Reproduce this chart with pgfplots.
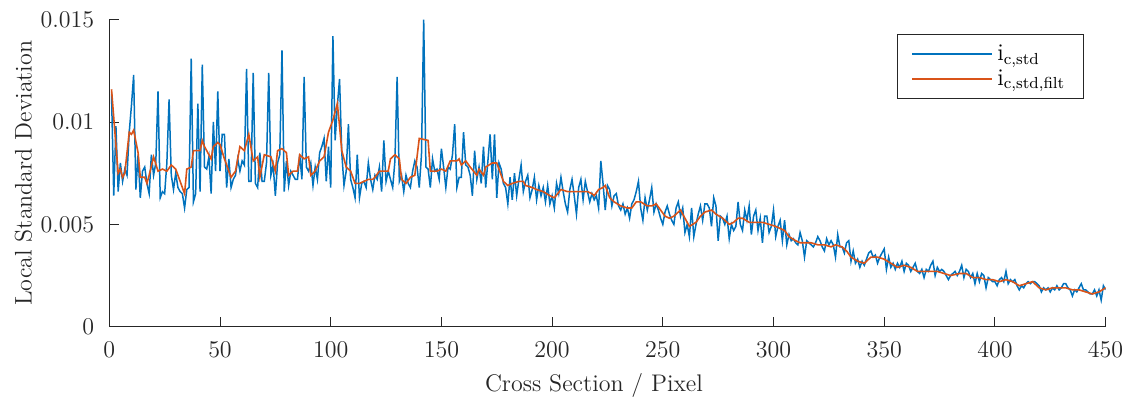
\documentclass[border=0pt]{standalone}
\usepackage{fontspec}
\usepackage{pgfplots}
\usepackage{pgfplotstable}
\pgfplotsset{compat=1.18}

\definecolor{mblue}{rgb}{0,0.447,0.741}
\definecolor{morange}{rgb}{0.851,0.325,0.098}
\definecolor{axgray}{rgb}{0.15,0.15,0.15}

% local standard deviation along the cross section
\pgfplotstableread{
x y
1 0.0114
2 0.0064
3 0.0098
4 0.0066
5 0.0080
6 0.0071
7 0.0077
8 0.0074
9 0.0095
10 0.0108
11 0.0123
12 0.0067
13 0.0084
14 0.0063
15 0.0076
16 0.0078
17 0.0070
18 0.0065
19 0.0084
20 0.0074
21 0.0080
22 0.0115
23 0.0063
24 0.0066
25 0.0065
26 0.0080
27 0.0111
28 0.0074
29 0.0067
30 0.0075
31 0.0068
32 0.0066
33 0.0065
34 0.0058
35 0.0067
36 0.0068
37 0.0131
38 0.0061
39 0.0065
40 0.0109
41 0.0066
42 0.0128
43 0.0078
44 0.0077
45 0.0083
46 0.0065
47 0.0100
48 0.0076
49 0.0115
50 0.0076
51 0.0094
52 0.0094
53 0.0068
54 0.0082
55 0.0068
56 0.0072
57 0.0074
58 0.0082
59 0.0076
60 0.0081
61 0.0079
62 0.0126
63 0.0071
64 0.0071
65 0.0124
66 0.0070
67 0.0068
68 0.0085
69 0.0071
70 0.0071
71 0.0080
72 0.0124
73 0.0074
74 0.0079
75 0.0064
76 0.0080
77 0.0084
78 0.0135
79 0.0066
80 0.0081
81 0.0069
82 0.0076
83 0.0074
84 0.0072
85 0.0072
86 0.0084
87 0.0072
88 0.0122
89 0.0078
90 0.0076
91 0.0080
92 0.0069
93 0.0078
94 0.0072
95 0.0085
96 0.0088
97 0.0092
98 0.0071
99 0.0088
100 0.0068
101 0.0142
102 0.0091
103 0.0108
104 0.0121
105 0.0085
106 0.0069
107 0.0076
108 0.0099
109 0.0072
110 0.0068
111 0.0063
112 0.0084
113 0.0063
114 0.0070
115 0.0071
116 0.0068
117 0.0080
118 0.0072
119 0.0067
120 0.0074
121 0.0072
122 0.0078
123 0.0066
124 0.0091
125 0.0071
126 0.0076
127 0.0072
128 0.0068
129 0.0081
130 0.0122
131 0.0071
132 0.0074
133 0.0066
134 0.0074
135 0.0070
136 0.0068
137 0.0076
138 0.0081
139 0.0078
140 0.0068
141 0.0084
142 0.0150
143 0.0078
144 0.0077
145 0.0068
146 0.0082
147 0.0076
148 0.0077
149 0.0072
150 0.0087
151 0.0078
152 0.0068
153 0.0078
154 0.0077
155 0.0084
156 0.0099
157 0.0068
158 0.0073
159 0.0073
160 0.0095
161 0.0079
162 0.0078
163 0.0074
164 0.0064
165 0.0086
166 0.0072
167 0.0078
168 0.0070
169 0.0088
170 0.0068
171 0.0081
172 0.0094
173 0.0072
174 0.0094
175 0.0063
176 0.0080
177 0.0077
178 0.0070
179 0.0068
180 0.0060
181 0.0073
182 0.0062
183 0.0075
184 0.0064
185 0.0072
186 0.0079
187 0.0066
188 0.0071
189 0.0074
190 0.0063
191 0.0067
192 0.0073
193 0.0062
194 0.0069
195 0.0064
196 0.0068
197 0.0061
198 0.0069
199 0.0060
200 0.0064
201 0.0058
202 0.0070
203 0.0065
204 0.0073
205 0.0066
206 0.0060
207 0.0056
208 0.0067
209 0.0072
210 0.0064
211 0.0055
212 0.0068
213 0.0072
214 0.0062
215 0.0071
216 0.0066
217 0.0061
218 0.0065
219 0.0062
220 0.0064
221 0.0058
222 0.0081
223 0.0070
224 0.0057
225 0.0069
226 0.0067
227 0.0059
228 0.0064
229 0.0065
230 0.0059
231 0.0057
232 0.0060
233 0.0055
234 0.0058
235 0.0053
236 0.0060
237 0.0062
238 0.0066
239 0.0071
240 0.0058
241 0.0052
242 0.0063
243 0.0057
244 0.0062
245 0.0068
246 0.0056
247 0.0060
248 0.0057
249 0.0053
250 0.0050
251 0.0056
252 0.0059
253 0.0055
254 0.0052
255 0.0050
256 0.0058
257 0.0061
258 0.0054
259 0.0058
260 0.0046
261 0.0050
262 0.0044
263 0.0058
264 0.0044
265 0.0050
266 0.0055
267 0.0059
268 0.0052
269 0.0060
270 0.0060
271 0.0058
272 0.0049
273 0.0063
274 0.0059
275 0.0042
276 0.0054
277 0.0053
278 0.0050
279 0.0054
280 0.0043
281 0.0050
282 0.0047
283 0.0049
284 0.0061
285 0.0050
286 0.0047
287 0.0057
288 0.0052
289 0.0059
290 0.0045
291 0.0054
292 0.0057
293 0.0047
294 0.0053
295 0.0041
296 0.0054
297 0.0054
298 0.0046
299 0.0049
300 0.0057
301 0.0044
302 0.0049
303 0.0052
304 0.0042
305 0.0052
306 0.0040
307 0.0045
308 0.0042
309 0.0043
310 0.0041
311 0.0040
312 0.0046
313 0.0042
314 0.0034
315 0.0042
316 0.0041
317 0.0040
318 0.0039
319 0.0041
320 0.0044
321 0.0042
322 0.0039
323 0.0037
324 0.0043
325 0.0040
326 0.0042
327 0.0040
328 0.0034
329 0.0045
330 0.0039
331 0.0039
332 0.0036
333 0.0041
334 0.0042
335 0.0032
336 0.0037
337 0.0031
338 0.0033
339 0.0029
340 0.0032
341 0.0030
342 0.0033
343 0.0036
344 0.0037
345 0.0034
346 0.0035
347 0.0031
348 0.0034
349 0.0036
350 0.0038
351 0.0028
352 0.0034
353 0.0029
354 0.0031
355 0.0028
356 0.0031
357 0.0029
358 0.0032
359 0.0027
360 0.0031
361 0.0030
362 0.0027
363 0.0029
364 0.0031
365 0.0027
366 0.0026
367 0.0028
368 0.0024
369 0.0028
370 0.0027
371 0.0030
372 0.0032
373 0.0025
374 0.0029
375 0.0027
376 0.0028
377 0.0027
378 0.0025
379 0.0023
380 0.0025
381 0.0026
382 0.0027
383 0.0025
384 0.0027
385 0.0030
386 0.0024
387 0.0028
388 0.0027
389 0.0024
390 0.0026
391 0.0021
392 0.0026
393 0.0022
394 0.0026
395 0.0025
396 0.0019
397 0.0024
398 0.0023
399 0.0022
400 0.0022
401 0.0020
402 0.0023
403 0.0024
404 0.0022
405 0.0027
406 0.0021
407 0.0023
408 0.0022
409 0.0023
410 0.0020
411 0.0018
412 0.0020
413 0.0019
414 0.0021
415 0.0022
416 0.0021
417 0.0022
418 0.0022
419 0.0021
420 0.0020
421 0.0017
422 0.0019
423 0.0018
424 0.0019
425 0.0017
426 0.0019
427 0.0018
428 0.0020
429 0.0018
430 0.0019
431 0.0021
432 0.0021
433 0.0019
434 0.0018
435 0.0015
436 0.0018
437 0.0017
438 0.0019
439 0.0021
440 0.0018
441 0.0018
442 0.0017
443 0.0016
444 0.0016
445 0.0018
446 0.0015
447 0.0018
448 0.0013
449 0.0020
450 0.0018
}\stdraw

% filtered curve
\pgfplotstableread{
x y
1 0.0116
4 0.0075
5 0.0077
6 0.0073
7 0.0075
9 0.0095
10 0.0094
11 0.0096
13 0.0085
14 0.0073
16 0.0073
17 0.0070
18 0.0074
20 0.0083
22 0.0076
24 0.0077
26 0.0076
28 0.0079
30 0.0077
32 0.0071
33 0.0068
34 0.0065
35 0.0077
37 0.0078
38 0.0086
41 0.0086
42 0.0091
43 0.0088
46 0.0082
47 0.0088
49 0.0090
50 0.0089
52 0.0082
55 0.0073
57 0.0076
59 0.0088
61 0.0086
63 0.0094
65 0.0081
67 0.0083
68 0.0073
70 0.0084
73 0.0083
75 0.0076
76 0.0086
78 0.0087
80 0.0085
81 0.0074
83 0.0076
85 0.0076
86 0.0084
88 0.0082
90 0.0083
91 0.0074
93 0.0076
95 0.0081
97 0.0083
99 0.0095
101 0.0101
103 0.0109
104 0.0098
105 0.0086
107 0.0078
109 0.0076
111 0.0070
113 0.0070
115 0.0071
117 0.0072
119 0.0072
120 0.0073
122 0.0076
124 0.0076
126 0.0076
127 0.0082
129 0.0084
131 0.0082
132 0.0072
134 0.0070
136 0.0073
138 0.0074
140 0.0092
144 0.0091
145 0.0076
148 0.0076
150 0.0077
152 0.0076
154 0.0081
157 0.0081
158 0.0082
159 0.0079
161 0.0081
163 0.0078
166 0.0074
167 0.0077
169 0.0074
170 0.0078
173 0.0080
175 0.0080
176 0.0077
178 0.0071
180 0.0069
182 0.0070
185 0.0071
187 0.0071
188 0.0069
191 0.0068
193 0.0067
196 0.0066
199 0.0064
201 0.0063
204 0.0067
207 0.0066
210 0.0066
213 0.0066
216 0.0066
218 0.0065
219 0.0064
221 0.0067
223 0.0068
224 0.0069
226 0.0063
228 0.0061
231 0.0059
234 0.0058
236 0.0058
238 0.0061
240 0.0061
243 0.0059
245 0.0059
247 0.0060
249 0.0057
251 0.0054
253 0.0053
255 0.0054
258 0.0057
260 0.0053
262 0.0049
265 0.0051
267 0.0054
269 0.0056
272 0.0057
274 0.0055
277 0.0053
280 0.0050
282 0.0051
284 0.0053
286 0.0053
289 0.0051
292 0.0051
295 0.0051
298 0.0050
301 0.0049
303 0.0048
305 0.0047
307 0.0044
310 0.0042
312 0.0041
314 0.0041
317 0.0041
320 0.0040
323 0.0040
326 0.0039
328 0.0040
331 0.0039
333 0.0037
335 0.0034
338 0.0032
341 0.0031
344 0.0034
347 0.0034
350 0.0033
353 0.0031
356 0.0029
359 0.0030
362 0.0029
365 0.0027
368 0.0027
371 0.0027
374 0.0027
377 0.0026
380 0.0025
384 0.0026
387 0.0026
390 0.0024
393 0.0024
396 0.0023
399 0.0023
402 0.0022
405 0.0023
408 0.0022
411 0.0020
414 0.0021
417 0.0022
420 0.0019
423 0.0018
426 0.0019
429 0.0019
432 0.0019
435 0.0018
438 0.0018
441 0.0017
444 0.0016
447 0.0017
450 0.0019
}\stdfilt

\begin{document}
\begin{tikzpicture}
\path[use as bounding box] (-54.65pt,-36.15pt) rectangle (506.35pt,163.35pt);
\begin{axis}[
  scale only axis,
  width=498.15pt, height=153.5pt,
  xmin=0, xmax=450, ymin=0, ymax=0.015,
  axis lines*=left,
  axis line style={axgray, line width=0.5pt},
  tick align=inside,
  major tick length=5pt,
  tick style={axgray, line width=0.5pt},
  xtick={0,50,...,450},
  ytick={0,0.005,0.01,0.015},
  yticklabels={0,0.005,0.01,0.015},
  scaled y ticks=false,
  tick label style={font=\fontsize{12}{14}\selectfont, text=axgray},
  xticklabel style={yshift=-4pt},
  yticklabel style={xshift=-4pt},
  xlabel={Cross Section / Pixel},
  ylabel={Local Standard Deviation},
  label style={font=\fontsize{12}{14}\selectfont, text=axgray},
  xlabel style={at={(axis description cs:0.4865,-0.212)}, anchor=base},
  ylabel style={at={(axis description cs:-0.078,0.5)}, anchor=base, rotate=0},
  legend style={
    at={(rel axis cs:0.978,0.952)}, anchor=north east,
    draw=axgray, fill=white,
    font=\fontsize{12}{14}\selectfont,
    inner xsep=7pt, inner ysep=3pt,
    row sep=-1pt,
  },
  legend cell align=left,
  legend image code/.code={\draw[#1, line width=0.8pt] (0pt,0pt) -- (40pt,0pt);},
]
\addplot[color=mblue, line width=0.75pt] table[x=x, y=y] {\stdraw};
\addlegendentry{i\textsubscript{c,std}}
\addplot[color=morange, line width=0.8pt] table[x=x, y=y] {\stdfilt};
\addlegendentry{i\textsubscript{c,std,filt}}
\end{axis}
\end{tikzpicture}
\end{document}
